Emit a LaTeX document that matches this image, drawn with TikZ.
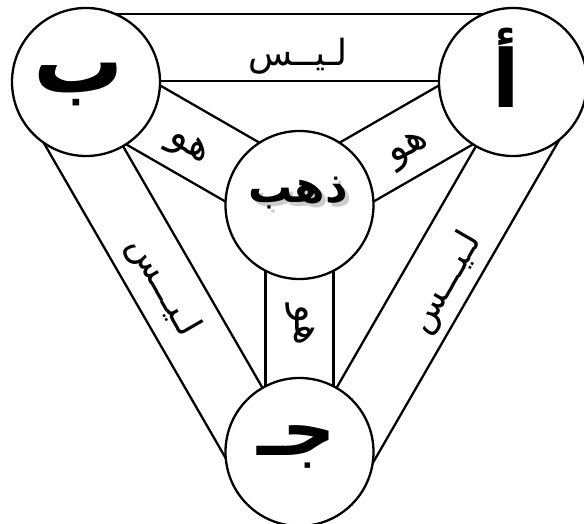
\documentclass[tikz,border=0pt]{standalone}
\usepackage{fontspec}
\usetikzlibrary{calc}
\newfontfamily\arabicfont[Script=Arabic]{DejaVu Sans}
\TeXXeTstate=1
\pgfdeclarelayer{background}
\pgfsetlayers{background,main}
\tikzset{
  ring/.style={circle,draw,line width=2.3pt,fill=white,minimum size=148pt,inner sep=0pt},
  band/.style={line width=2.3pt},
  bigletter/.style={font=\arabicfont\bfseries\fontsize{90}{100}\selectfont,inner sep=0pt},
  lbl/.style={font=\arabicfont\fontsize{36}{40}\selectfont,inner sep=0pt},
  lblho/.style={font=\arabicfont\fontsize{40}{44}\selectfont,inner sep=0pt},
}
\begin{document}
\begin{tikzpicture}[x=1pt,y=-1pt]
\useasboundingbox (0,0) rectangle (584,524);
\node[ring] (B) at (86,82) {};
\node[ring] (A) at (513,82) {};
\node[ring] (D) at (299.5,205) {};
\node[ring] (C) at (299.5,452) {};
\begin{pgfonlayer}{background}
  \draw[band] ($(B)!1pt!90:(A)$) -- ($(A)!1pt!-90:(B)$);
  \draw[band] ($(B)!68pt!90:(A)$) -- ($(A)!68pt!-90:(B)$);
  \draw[band] (B.center) -- (C.center);
  \draw[band] ($(B)!67pt!-90:(C)$) -- ($(C)!67pt!90:(B)$);
  \draw[band] (A.center) -- (C.center);
  \draw[band] ($(A)!69pt!90:(C)$) -- ($(C)!69pt!-90:(A)$);
  \foreach \p in {B,A,C} {
    \draw[band] ($(\p)!34pt!90:(D)$) -- ($(D)!34pt!-90:(\p)$);
    \draw[band] ($(\p)!34pt!-90:(D)$) -- ($(D)!34pt!90:(\p)$);
  }
\end{pgfonlayer}
\node[bigletter] (tB) at (79,85) {\beginR ب\endR};
\node[bigletter,font=\arabicfont\bfseries\fontsize{80}{90}\selectfont] (tA) at (506,68) {\beginR أ\endR};
\node[bigletter,text=black!20] (tDs) at (302,197) {\fontsize{44}{52}\selectfont\beginR ذهب\endR};
\node[bigletter] (tD) at (298,193) {\fontsize{44}{52}\selectfont\beginR ذهب\endR};
\node[bigletter] (tC) at (297,447) {\fontsize{74}{84}\selectfont\beginR جـ\endR};
\node[lbl] (lAB) at (298,56) {\beginR لـيــس\endR};
\node[lbl,rotate=-60] (lBC) at (163,287) {\beginR لـيـــس\endR};
\node[lbl,rotate=60] (lAC) at (446,283) {\beginR لـيـــس\endR};
\node[lblho,rotate=-30] (lBD) at (188,148) {\beginR هو\endR};
\node[lblho,rotate=30] (lAD) at (409,150) {\beginR هو\endR};
\node[lblho,rotate=-90] (lCD) at (300,325) {\beginR هو\endR};
\end{tikzpicture}
\end{document}
